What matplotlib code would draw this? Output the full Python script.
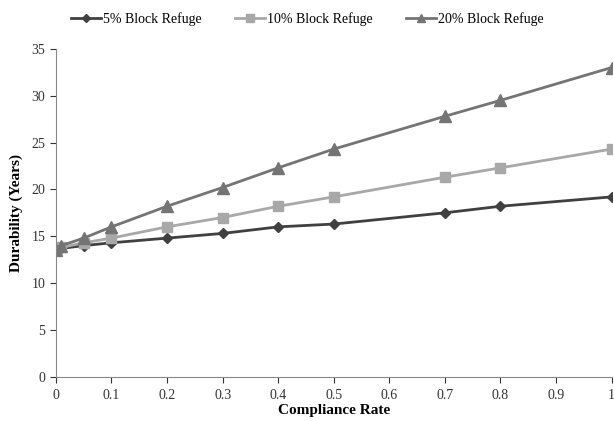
import matplotlib
matplotlib.use('Agg')
from matplotlib import pyplot as plt

compliance = [0, 0.01, 0.05, 0.1, 0.2, 0.3, 0.4, 0.5, 0.7, 0.8, 1.0]
refuge_5 = [13.5, 13.7, 14.0, 14.3, 14.8, 15.3, 16.0, 16.3, 17.5, 18.2, 19.2]
refuge_10 = [13.5, 13.8, 14.3, 14.8, 16.0, 17.0, 18.2, 19.2, 21.3, 22.3, 24.3]
refuge_20 = [13.5, 14.0, 14.8, 16.0, 18.2, 20.2, 22.3, 24.3, 27.8, 29.5, 33.0]

plt.rcParams['font.family'] = ['Liberation Serif', 'DejaVu Serif']

fig = plt.figure(figsize=(6.14, 4.21), dpi=100)
ax = fig.add_axes([0.091, 0.105, 0.905, 0.779])

ax.plot(compliance, refuge_5, color='#404040', lw=2, marker='D', ms=5, label='5% Block Refuge')
ax.plot(compliance, refuge_10, color='#a8a8a8', lw=2, marker='s', ms=7, label='10% Block Refuge')
ax.plot(compliance, refuge_20, color='#747474', lw=2, marker='^', ms=8, label='20% Block Refuge')

ax.set_xlim(0, 1)
ax.set_ylim(0, 35)
ax.set_xticks([0, 0.1, 0.2, 0.3, 0.4, 0.5, 0.6, 0.7, 0.8, 0.9, 1])
ax.set_xticklabels(['0', '0.1', '0.2', '0.3', '0.4', '0.5', '0.6', '0.7', '0.8', '0.9', '1'])
ax.set_yticks(range(0, 36, 5))
ax.tick_params(labelsize=10, colors='#333333', direction='out', length=4)
ax.tick_params(axis='x', pad=5)
for s in ['top', 'right']:
    ax.spines[s].set_visible(False)
for s in ['left', 'bottom']:
    ax.spines[s].set_color('#888888')

ax.set_xlabel('Compliance Rate', fontweight='bold', fontsize=11, labelpad=1)
ax.set_ylabel('Durability (Years)', fontweight='bold', fontsize=11, labelpad=6)

fig.legend(loc='upper center', bbox_to_anchor=(0.5, 1.0), ncol=3, frameon=False,
           fontsize=10, handlelength=2.2, handletextpad=0.1, columnspacing=2.4,
           markerscale=0.8)

fig.savefig('out.png', dpi=100)
